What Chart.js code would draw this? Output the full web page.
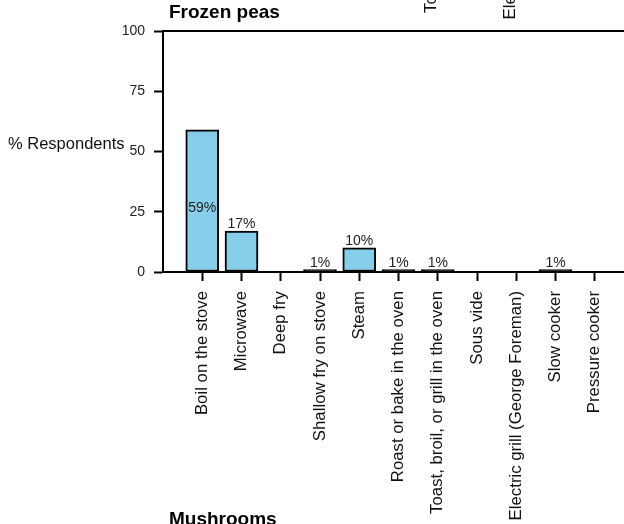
<!DOCTYPE html>
<html>
<head>
<meta charset="utf-8">
<script src="https://cdn.jsdelivr.net/npm/chart.js@4.4.0/dist/chart.umd.min.js"></script>
<style>
  html, body { margin: 0; padding: 0; background: #fff; overflow: hidden; }
  #wrap { width: 640px; height: 524px; }
</style>
</head>
<body>
<div id="wrap"><canvas id="barChart" width="640" height="524"></canvas></div>
<script>
// data
var categories = ["Boil on the stove", "Microwave", "Deep fry", "Shallow fry on stove", "Steam",
  "Roast or bake in the oven", "Toast, broil, or grill in the oven", "Sous vide",
  "Electric grill (George Foreman)", "Slow cooker", "Pressure cooker"];
var percentRespondents = [59, 17, 0, 1, 10, 1, 1, 0, 0, 1, 0];
var yTicks = [0, 25, 50, 75, 100];

var panelTitle = "Frozen peas";
var nextPanelTitle = "Mushrooms";
var yTitle = "% Respondents";

var FONT = '"Liberation Sans", Arial, Helvetica, sans-serif';

// an empty slot each side so the bars sit away from the y axis like the original
var labels = [""].concat(categories, [""]);
var values = [null].concat(percentRespondents, [null]);

var extras = {
  id: 'extras',
  afterDatasetsDraw: function(chart) {
    var ctx = chart.ctx, x = chart.scales.x, y = chart.scales.y;
    var meta = chart.getDatasetMeta(0);
    ctx.save();
    ctx.fillStyle = '#222';
    ctx.font = '14px ' + FONT;
    ctx.textAlign = 'center';
    ctx.textBaseline = 'alphabetic';
    meta.data.forEach(function(bar, i) {
      var v = values[i];
      if (!v) return;
      // tall bars get their label inside, at a capped height
      var py = y.getPixelForValue(Math.min(v, 23.5)) - 3;
      ctx.fillText(v + '%', bar.x, py);
    });
    ctx.restore();
  },
  afterDraw: function(chart) {
    var ctx = chart.ctx, a = chart.chartArea, x = chart.scales.x;
    ctx.save();
    // top frame line
    ctx.strokeStyle = '#000';
    ctx.lineWidth = 2;
    ctx.beginPath();
    ctx.moveTo(a.left - 1, a.top);
    ctx.lineTo(chart.width, a.top);
    ctx.stroke();

    // panel titles
    ctx.fillStyle = '#000';
    ctx.textAlign = 'left';
    ctx.textBaseline = 'alphabetic';
    ctx.font = 'bold 19px ' + FONT;
    ctx.fillText(panelTitle, a.left + 6, a.top - 13);
    ctx.fillText(nextPanelTitle, a.left + 6, a.top - 13 + 507);

    // y title, horizontal
    ctx.font = '16.5px ' + FONT;
    ctx.fillStyle = '#111';
    ctx.fillText(yTitle, 8, 149);

    // tick labels of the panel above (only the long ones reach into view)
    ctx.font = '16.8px ' + FONT;
    ctx.fillStyle = '#111';
    ctx.textAlign = 'right';
    ctx.textBaseline = 'middle';
    categories.forEach(function(c, i) {
      var px = x.getPixelForValue(i + 1) - 6;
      var py = a.bottom + 20 - 502;
      ctx.save();
      ctx.translate(px, py);
      ctx.rotate(-Math.PI / 2);
      ctx.fillText(c, 0, 0);
      ctx.restore();
    });
    ctx.restore();
  }
};

window.onload = function() {
  var ctx = document.getElementById("barChart").getContext('2d');
  var chart = new Chart(ctx, {
    type: 'bar',
    data: {
      labels: labels,
      datasets: [{
        data: values,
        // 1% bars are so thin that only their black outline shows
        backgroundColor: function(c) { return c.raw !== null && c.raw < 2 ? '#000' : '#87CEEB'; },
        borderColor: "#000",
        borderWidth: 2,
        borderSkipped: false,
        barThickness: 33
      }]
    },
    options: {
      responsive: false,
      animation: false,
      layout: { padding: { left: 0, top: 31, right: 6, bottom: 0 } },
      plugins: {
        legend: { display: false },
        tooltip: { enabled: false }
      },
      scales: {
        x: {
          offset: false,
          afterFit: function(s) { s.height = 252; s.paddingLeft = 0; s.paddingRight = 0; },
          grid: {
            offset: false,
            drawOnChartArea: false,
            tickLength: 9,
            tickWidth: 2,
            tickColor: function(c) {
              return (c.index === 0 || c.index === labels.length - 1) ? 'rgba(0,0,0,0)' : '#000';
            }
          },
          border: { display: true, color: '#000', width: 2 },
          ticks: {
            autoSkip: false,
            minRotation: 90,
            maxRotation: 90,
            padding: 10,
            color: '#111',
            font: { family: FONT, size: 16.8 }
          }
        },
        y: {
          min: 0,
          max: 100,
          afterFit: function(s) { s.width = 163; },
          afterBuildTicks: function(s) {
            s.ticks = yTicks.map(function(v) { return { value: v }; });
          },
          grid: {
            drawOnChartArea: false,
            tickLength: 9,
            tickWidth: 2,
            tickColor: '#000'
          },
          border: { display: true, color: '#000', width: 2 },
          ticks: {
            padding: 9,
            color: '#222',
            font: { family: FONT, size: 14 }
          }
        }
      }
    },
    plugins: [extras]
  });
}
</script>
</body>
</html>
